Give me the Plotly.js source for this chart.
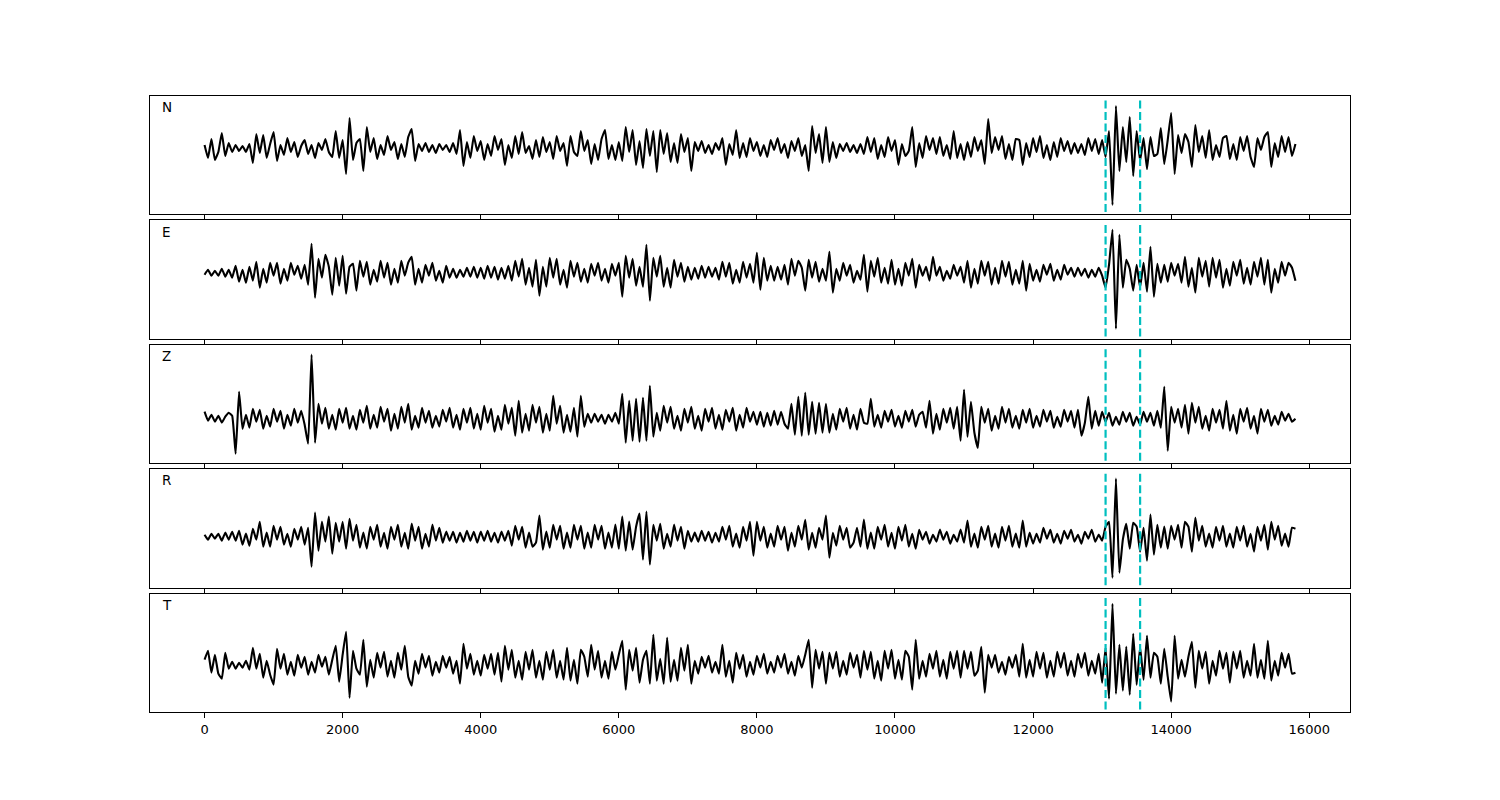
<!DOCTYPE html>
<html>
<head>
<meta charset="utf-8">
<script src="https://cdn.plot.ly/plotly-3.0.1.min.js"></script>
<style>html,body{margin:0;padding:0;background:#fff;}#chart{width:1500px;height:800px;}</style>
</head>
<body>
<div id="chart"></div>
<script>
// sample interval of the traces (x units per sample)
const DT = 50;
const COMPONENTS = ["N", "E", "Z", "R", "T"];
const PICKS = [13050, 13550];
const TICKS = [0, 2000, 4000, 6000, 8000, 10000, 12000, 14000, 16000];

const N_VALUES = [
3,-10,9,-12,-4,15,-8,5,-4,3,-3,2,-4,4,-15,14,-5,13,-10,4,
16,-13,3,-7,10,-4,6,-9,2,8,-6,3,-10,5,-2,9,-4,-9,17,-10,
8,-26,30,-12,5,9,-23,21,-4,10,-11,3,-7,12,-2,6,-11,4,-9,11,
19,-13,4,-3,5,-4,3,-5,4,-2,3,-4,5,-6,18,-18,6,-10,12,-3,
7,-12,4,-8,12,-2,9,-17,3,-10,12,-6,16,-5,2,-11,8,-9,11,-4,
6,-11,12,-3,5,-18,12,-4,-8,17,-3,8,-16,4,-12,9,18,-11,3,-12,
6,-13,21,-4,18,-17,7,-20,19,-8,17,-24,18,-6,15,-14,5,-15,14,-4,
10,-23,6,-3,7,-5,3,-6,5,-2,10,-17,4,-7,18,-10,5,-9,10,-3,
6,-8,3,-9,8,-2,10,-5,4,-10,7,-3,10,-8,3,-23,22,-5,14,-15,
21,-14,6,-10,4,-3,5,-4,3,-5,4,-6,11,-4,10,-11,3,-9,11,-3,
8,-17,4,-8,-3,21,-19,5,-10,12,-2,10,-6,11,-8,3,-11,17,-10,4,
-12,6,-9,11,-3,8,-16,29,-5,11,-2,12,-11,4,-12,9,8,-17,5,-9,
10,-4,12,-10,3,-12,6,-9,10,-3,7,-6,5,-5,4,-7,10,-3,9,-6,
8,-9,17,-57,42,-23,21,-14,31,-28,17,-13,10,-21,11,-8,-6,20,-16,8,
35,-26,13,-5,14,6,-19,23,-4,12,-10,18,-12,3,-9,10,12,-11,4,-12,
11,-3,12,-9,-19,10,-2,11,16,-19,5,-9,12,-4,11,-8,4];

const E_VALUES = [
-2,3,-3,2,-3,4,-4,3,-5,7,-9,3,-10,6,-8,11,-15,4,-10,10,
-3,10,-11,4,-8,10,-2,7,-6,8,-12,29,-25,14,-5,18,6,-22,15,-13,
17,-21,6,9,-18,12,-4,11,-12,3,-9,12,-5,10,-12,4,-10,12,-3,10,
16,-12,4,-10,8,-3,10,-8,2,-10,7,-5,4,-5,3,-4,5,-4,6,-5,
5,-6,7,-5,6,-7,5,-6,7,-8,12,-4,14,-12,5,-14,13,-23,6,-14,
15,-5,14,-12,3,-15,12,-4,10,-9,4,-10,9,-3,10,-8,4,-10,9,-3,
10,-24,17,-5,14,-13,6,-14,28,-28,15,-4,17,-14,5,-15,13,-4,10,-9,
6,-7,5,-6,7,-5,6,-4,5,-7,11,-4,10,-11,3,-10,11,-5,9,-10,
20,-17,15,-8,7,-8,6,-7,8,-12,14,-3,12,5,-18,13,-5,11,-9,4,
-8,21,-20,4,-8,10,-3,8,-10,2,-7,18,-19,12,-4,15,-10,5,-11,13,
-12,4,-13,10,-3,14,-15,8,-3,6,-8,16,-3,6,-8,2,-6,8,-3,6,
-10,12,-15,4,-11,12,-3,11,-12,5,-11,12,-4,11,-12,3,-11,12,-18,9,
-8,3,-9,8,-2,9,-8,3,-7,8,-2,5,-4,5,-3,4,-5,3,-4,5,
-3,-15,8,43,-56,38,-15,13,4,-18,8,-15,10,-19,26,-24,9,-10,8,-9,
10,-3,9,-10,16,-14,5,-20,15,-4,12,-14,15,-5,13,-15,4,-13,11,-3,
13,-11,5,-12,11,-4,15,-12,13,-20,4,-10,11,-3,10,5,-8];

const Z_VALUES = [
7,-2,4,-3,3,-4,2,6,3,-35,27,-10,4,-9,10,-3,9,-10,3,-8,
10,-3,8,-10,4,-7,10,-4,8,-6,-25,64,-24,15,-5,11,-10,4,-11,10,
-4,11,-10,3,-11,9,-4,13,-10,4,-9,12,-3,10,-12,5,-10,12,-4,15,
-11,3,-9,11,-4,8,-9,3,-8,9,-3,11,-9,4,-11,10,-4,11,-10,5,
-11,13,-4,10,-13,3,-11,14,-5,11,-17,18,-14,5,-12,14,-4,12,-14,5,
-12,23,-5,13,-14,4,-13,11,-18,23,-8,5,-4,5,-3,4,-5,4,-3,6,
-5,25,-24,18,-22,20,-23,21,-22,33,-18,6,-12,13,-4,12,-10,3,-12,10,
-4,12,-10,3,-12,10,-3,11,-10,4,-11,9,-3,11,-12,4,-9,11,-3,7,
-6,7,-8,6,-7,8,-6,7,-5,-10,15,-16,22,-17,26,-16,17,-15,16,-14,
15,-14,5,-11,10,-3,11,-10,4,-11,10,-4,-5,20,-8,4,-9,8,-3,9,
-8,3,-9,8,-3,9,-8,4,7,-9,18,-15,5,-11,10,-4,11,-10,12,-22,
29,-18,17,-14,-29,12,-4,10,-12,3,-10,12,-4,10,-9,3,-10,9,-4,10,
-9,3,-8,9,-3,8,-9,2,-8,9,-3,8,-9,9,-17,-4,22,-10,8,-7,
7,-3,6,-7,2,-6,7,-3,6,-7,2,-6,7,-3,6,-7,8,-9,32,-32,
12,-4,10,-9,14,-15,16,-4,12,-10,3,-12,10,-4,9,-10,18,-12,4,-15,
10,-3,11,-10,3,-15,10,-3,9,-7,3,-6,7,-2,5,-3,0];

const R_VALUES = [
2,-3,3,-2,3,-4,4,-3,5,-4,6,-8,3,-9,8,-3,15,-10,4,-10,
11,-3,10,-8,3,-10,8,-3,10,-8,9,-30,24,-14,15,-5,20,-17,14,-5,
15,-12,18,-4,12,-11,4,-12,10,-3,12,-10,4,-12,10,-3,12,-10,4,-12,
13,-4,10,-12,3,-10,12,-4,9,-6,5,-4,5,-6,4,-5,6,-4,5,-6,
5,-4,6,-5,4,-6,5,-4,6,-9,11,-3,10,-11,4,-10,-6,21,-13,5,
-11,12,-3,11,-12,4,-11,12,-3,11,-12,4,-11,12,-3,11,-12,4,-11,12,
-12,20,-14,15,-13,10,23,-23,25,-28,12,-4,13,-12,3,-10,12,-4,10,-12,
6,-5,4,-5,6,-4,5,-6,4,-5,10,-3,11,-10,3,-11,10,-4,15,-19,
15,-4,10,-11,3,-10,11,-3,10,-14,4,-10,11,-3,17,-13,4,-11,9,-3,
21,-21,4,-9,11,-3,9,-11,-6,9,-10,17,-12,4,-12,10,-3,12,-10,4,
-12,10,-4,12,-10,3,-12,7,-3,5,-7,2,-5,7,-3,5,-7,2,-5,7,
-6,16,-10,3,-11,10,-3,11,-10,3,-11,10,-4,11,-10,3,-11,16,-10,4,
-7,3,-6,9,-2,7,-6,3,-7,6,-2,7,-5,2,-7,5,-2,7,-5,2,
-4,10,15,-41,58,-36,-3,13,-12,14,10,-15,9,-24,22,-18,12,-11,10,-12,
11,-3,12,-11,15,10,-15,19,-4,11,-10,3,-11,10,-4,11,-10,3,-11,10,
-4,11,-10,3,-15,10,-4,12,-13,15,-3,11,-9,3,-10,9,8];

const T_VALUES = [
5,14,-8,10,-9,-14,12,-4,3,-4,2,-3,4,-5,17,-4,11,-13,4,-10,
-20,16,-4,11,-10,3,-11,10,-3,8,-10,3,-8,10,-2,8,-10,5,19,-17,
10,33,-33,14,-4,-10,25,-22,5,-13,12,-3,13,-12,4,-13,12,-5,19,-12,
-21,4,-9,11,-3,9,-11,3,-8,9,-3,8,-9,4,-19,21,-4,11,-10,4,
-11,10,-4,11,-10,12,-17,19,-5,15,-13,4,-15,13,-5,15,-13,4,-15,13,
-5,15,-13,4,-15,17,-16,5,-19,15,8,-12,20,-5,14,-13,4,-14,13,-5,
10,24,-25,15,-6,17,-18,5,14,-19,30,-16,6,-19,27,-17,5,-16,17,-6,
20,-19,4,-9,8,-3,9,-8,3,-9,20,-12,4,-18,12,-4,10,-12,3,-10,
9,-3,11,-9,3,-8,9,-3,11,-9,3,-11,9,-3,10,25,-23,15,-4,13,
-19,12,-4,13,-12,4,-10,12,-3,10,-13,14,-5,13,-14,4,-16,14,-4,15,
-14,5,-15,14,8,-25,25,-14,4,-12,11,-4,14,-12,5,-14,13,-4,14,-13,
14,-4,13,-11,-6,18,-28,10,-3,10,-8,3,-10,8,-3,10,-12,21,-13,5,
-12,13,-4,12,-13,4,-12,13,-3,12,-11,4,-12,11,-3,12,-11,4,-9,11,
-18,17,-34,61,-29,20,-26,18,-30,31,-20,18,-15,29,-13,12,8,-19,16,-12,
-37,29,-14,5,-12,8,23,-23,14,-4,13,-19,4,-11,14,-4,12,-18,13,-4,
14,-13,4,-11,21,-13,5,-14,24,-16,4,-11,12,-3,11,-9,-8];

const SERIES = [N_VALUES, E_VALUES, Z_VALUES, R_VALUES, T_VALUES];
// vertical view window of each panel (below / above the trace baseline)
const Y_WINDOWS = [[-66.5, 52], [-66.1, 52.3], [-44.5, 73.9], [-50.9, 67.5], [-47.3, 71.2]];

const FONT = "DejaVu Sans, Liberation Sans, Arial, sans-serif";
const traces = [];
const layout = {
  width: 1500, height: 800,
  margin: {l: 0, r: 0, t: 0, b: 0},
  paper_bgcolor: "#ffffff", plot_bgcolor: "#ffffff",
  showlegend: false,
  font: {family: FONT, size: 13, color: "#000"},
  shapes: [], annotations: []
};

const TOP = 0.88, PITCH = 0.155477, H = 0.148077;
SERIES.forEach((vals, i) => {
  const n = i + 1;
  const xa = "x" + (n === 1 ? "" : n), ya = "y" + (n === 1 ? "" : n);
  const t = vals.map((_, k) => k * DT);
  traces.push({
    x: t, y: vals, xaxis: xa, yaxis: ya, type: "scatter", mode: "lines",
    line: {color: "#000000", width: 2.1, shape: "spline", smoothing: 0.35},
    hoverinfo: "skip"
  });
  const top = TOP - i * PITCH;
  layout["xaxis" + (n === 1 ? "" : n)] = {
    domain: [0.1, 0.9], anchor: ya, range: [-790, 16590],
    showgrid: false, zeroline: false,
    showline: true, mirror: true, linecolor: "#000", linewidth: 1,
    ticks: "outside", ticklen: 5, tickwidth: 1, tickcolor: "#000",
    tickvals: TICKS, ticktext: TICKS.map(String),
    showticklabels: i === SERIES.length - 1,
    tickfont: {family: FONT, size: 13, color: "#000"}
  };
  layout["yaxis" + (n === 1 ? "" : n)] = {
    domain: [top - H, top], anchor: xa, range: Y_WINDOWS[i],
    showgrid: false, zeroline: false, showticklabels: false, ticks: "",
    showline: true, mirror: true, linecolor: "#000", linewidth: 1
  };
  PICKS.forEach(p => {
    layout.shapes.push({
      type: "line", xref: xa, yref: ya + " domain", x0: p, x1: p, y0: 0.02, y1: 0.98,
      line: {color: "#00bfbf", width: 2.2, dash: "8px,3.5px"}
    });
  });
  layout.annotations.push({
    xref: xa + " domain", yref: ya + " domain", x: 0.008, y: 0.905,
    xanchor: "left", yanchor: "middle", showarrow: false,
    text: COMPONENTS[i], font: {family: FONT, size: 13.5, color: "#000"}
  });
});

Plotly.newPlot("chart", traces, layout, {staticPlot: true, displayModeBar: false});
</script>
</body>
</html>
